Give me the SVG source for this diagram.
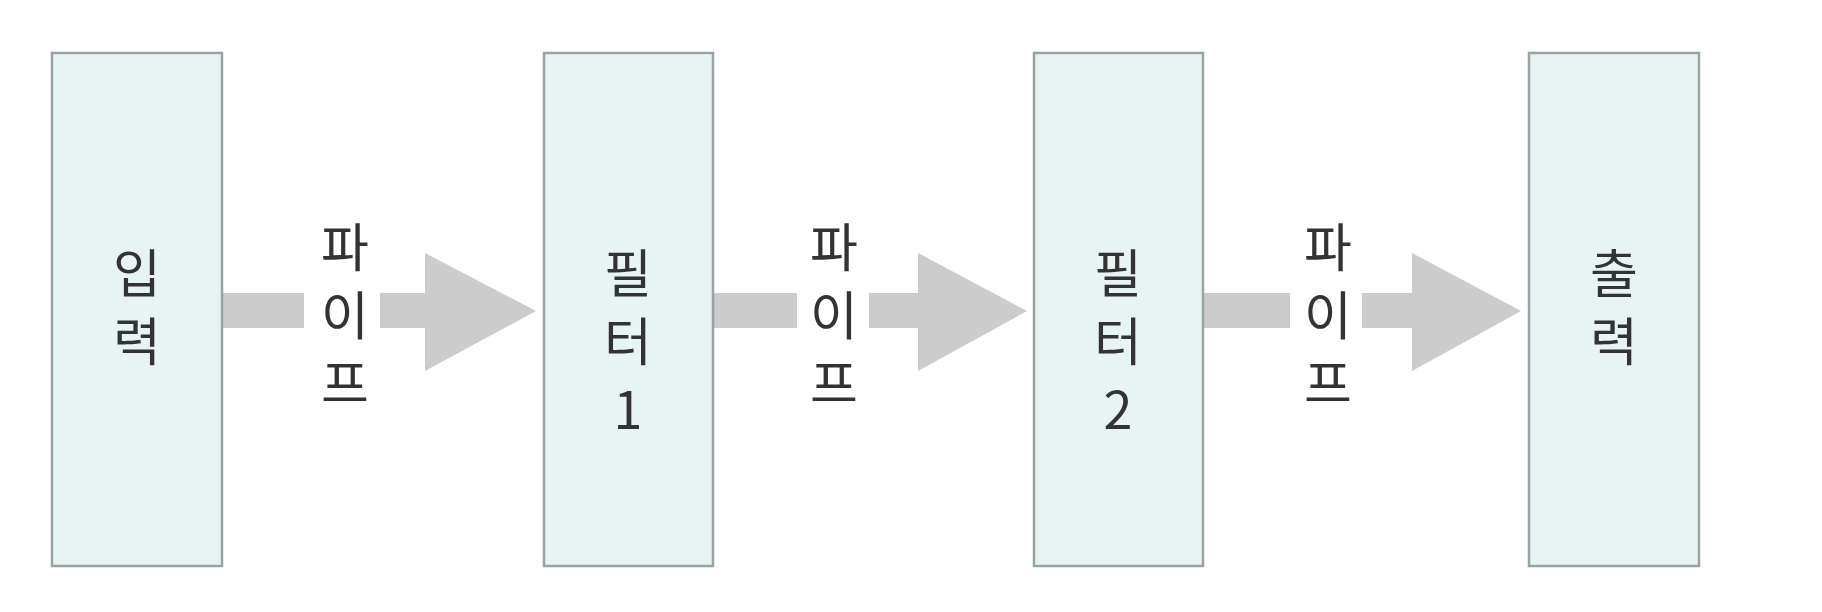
<svg xmlns="http://www.w3.org/2000/svg" width="1822" height="612" viewBox="0 0 1822 612">
<style>
.box{fill:#e8f3f3;stroke:#9aa3a3;stroke-width:2.5}
.lbl{font-family:"Noto Sans CJK KR","Noto Sans",sans-serif;font-size:52px;fill:#333;text-anchor:middle}
.arr{fill:#cccccc}
</style>
<rect width="1822" height="612" fill="#ffffff"/>
<g id="connectors">
  <g id="pipe1">
    <rect class="arr" x="222" y="293" width="82" height="35"/>
    <rect class="arr" x="380" y="293" width="46" height="35"/>
    <polygon class="arr" points="425,253 536,311 425,371"/>
    <text class="lbl" x="345" y="267">파<tspan x="345" dy="68">이</tspan><tspan x="345" dy="68">프</tspan></text>
  </g>
  <g id="pipe2">
    <rect class="arr" x="713" y="293" width="84" height="35"/>
    <rect class="arr" x="869" y="293" width="50" height="35"/>
    <polygon class="arr" points="918,253 1027,311 918,371"/>
    <text class="lbl" x="834" y="267">파<tspan x="834" dy="68">이</tspan><tspan x="834" dy="68">프</tspan></text>
  </g>
  <g id="pipe3">
    <rect class="arr" x="1203" y="293" width="87" height="35"/>
    <rect class="arr" x="1362" y="293" width="51" height="35"/>
    <polygon class="arr" points="1412,253 1521,311 1412,371"/>
    <text class="lbl" x="1328" y="267">파<tspan x="1328" dy="68">이</tspan><tspan x="1328" dy="68">프</tspan></text>
  </g>
</g>
<g id="input">
  <rect class="box" x="52" y="53" width="170" height="513"/>
  <text class="lbl" x="137" y="293">입<tspan x="137" dy="68">력</tspan></text>
</g>
<g id="filter1">
  <rect class="box" x="544" y="53" width="169" height="513"/>
  <text class="lbl" x="628" y="293">필<tspan x="628" dy="68">터</tspan><tspan x="628" dy="68">1</tspan></text>
</g>
<g id="filter2">
  <rect class="box" x="1034" y="53" width="169" height="513"/>
  <text class="lbl" x="1118" y="293">필<tspan x="1118" dy="68">터</tspan><tspan x="1118" dy="68">2</tspan></text>
</g>
<g id="output">
  <rect class="box" x="1529" y="53" width="170" height="513"/>
  <text class="lbl" x="1614" y="293">출<tspan x="1614" dy="68">력</tspan></text>
</g>
</svg>
